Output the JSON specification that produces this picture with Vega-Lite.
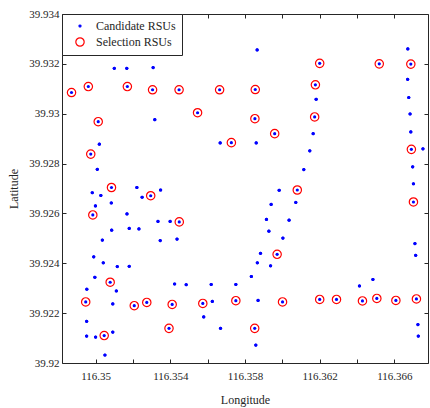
{
  "$schema": "https://vega.github.io/schema/vega-lite/v6.json",
  "autosize": "none",
  "width": 366,
  "height": 349,
  "padding": {"left": 62, "top": 14, "right": 2, "bottom": 45},
  "background": "white",
  "config": {
    "view": {"stroke": null},
    "font": "Liberation Serif",
    "axis": {
      "labelFont": "Liberation Serif", "titleFont": "Liberation Serif",
      "labelFontSize": 11, "titleFontSize": 12, "titleFontWeight": "normal",
      "labelColor": "#262626", "titleColor": "#262626",
      "domainColor": "#262626", "tickColor": "#262626",
      "grid": false, "tickSize": -4, "domainWidth": 1, "tickWidth": 1
    },
    "legend": {"labelFont": "Liberation Serif"}
  },
  "data": {"values": [
    {"lon": 116.3510, "lat": 39.93182, "kind": "Candidate RSUs"},
    {"lon": 116.35167, "lat": 39.93182, "kind": "Candidate RSUs"},
    {"lon": 116.35308, "lat": 39.93185, "kind": "Candidate RSUs"},
    {"lon": 116.35317, "lat": 39.92976, "kind": "Candidate RSUs"},
    {"lon": 116.3502, "lat": 39.92878, "kind": "Candidate RSUs"},
    {"lon": 116.35009, "lat": 39.92777, "kind": "Candidate RSUs"},
    {"lon": 116.35221, "lat": 39.92704, "kind": "Candidate RSUs"},
    {"lon": 116.35348, "lat": 39.92694, "kind": "Candidate RSUs"},
    {"lon": 116.34982, "lat": 39.92683, "kind": "Candidate RSUs"},
    {"lon": 116.35028, "lat": 39.92672, "kind": "Candidate RSUs"},
    {"lon": 116.35249, "lat": 39.92665, "kind": "Candidate RSUs"},
    {"lon": 116.35865, "lat": 39.93256, "kind": "Candidate RSUs"},
    {"lon": 116.36672, "lat": 39.9326, "kind": "Candidate RSUs"},
    {"lon": 116.36181, "lat": 39.93058, "kind": "Candidate RSUs"},
    {"lon": 116.36671, "lat": 39.93138, "kind": "Candidate RSUs"},
    {"lon": 116.36677, "lat": 39.93065, "kind": "Candidate RSUs"},
    {"lon": 116.36684, "lat": 39.92999, "kind": "Candidate RSUs"},
    {"lon": 116.36688, "lat": 39.92927, "kind": "Candidate RSUs"},
    {"lon": 116.36753, "lat": 39.92859, "kind": "Candidate RSUs"},
    {"lon": 116.35667, "lat": 39.92883, "kind": "Candidate RSUs"},
    {"lon": 116.3586, "lat": 39.92883, "kind": "Candidate RSUs"},
    {"lon": 116.36165, "lat": 39.9292, "kind": "Candidate RSUs"},
    {"lon": 116.36147, "lat": 39.92851, "kind": "Candidate RSUs"},
    {"lon": 116.36115, "lat": 39.92776, "kind": "Candidate RSUs"},
    {"lon": 116.36698, "lat": 39.92787, "kind": "Candidate RSUs"},
    {"lon": 116.36702, "lat": 39.92719, "kind": "Candidate RSUs"},
    {"lon": 116.35983, "lat": 39.92693, "kind": "Candidate RSUs"},
    {"lon": 116.34999, "lat": 39.9263, "kind": "Candidate RSUs"},
    {"lon": 116.35084, "lat": 39.92642, "kind": "Candidate RSUs"},
    {"lon": 116.35168, "lat": 39.92598, "kind": "Candidate RSUs"},
    {"lon": 116.35086, "lat": 39.92533, "kind": "Candidate RSUs"},
    {"lon": 116.3518, "lat": 39.9254, "kind": "Candidate RSUs"},
    {"lon": 116.35232, "lat": 39.92538, "kind": "Candidate RSUs"},
    {"lon": 116.35036, "lat": 39.92493, "kind": "Candidate RSUs"},
    {"lon": 116.35334, "lat": 39.92568, "kind": "Candidate RSUs"},
    {"lon": 116.35399, "lat": 39.92568, "kind": "Candidate RSUs"},
    {"lon": 116.35346, "lat": 39.92491, "kind": "Candidate RSUs"},
    {"lon": 116.35436, "lat": 39.92497, "kind": "Candidate RSUs"},
    {"lon": 116.3499, "lat": 39.92426, "kind": "Candidate RSUs"},
    {"lon": 116.35041, "lat": 39.92402, "kind": "Candidate RSUs"},
    {"lon": 116.35116, "lat": 39.92387, "kind": "Candidate RSUs"},
    {"lon": 116.3518, "lat": 39.92388, "kind": "Candidate RSUs"},
    {"lon": 116.34996, "lat": 39.92344, "kind": "Candidate RSUs"},
    {"lon": 116.34953, "lat": 39.92296, "kind": "Candidate RSUs"},
    {"lon": 116.35111, "lat": 39.92289, "kind": "Candidate RSUs"},
    {"lon": 116.35092, "lat": 39.92237, "kind": "Candidate RSUs"},
    {"lon": 116.35423, "lat": 39.92317, "kind": "Candidate RSUs"},
    {"lon": 116.35485, "lat": 39.92314, "kind": "Candidate RSUs"},
    {"lon": 116.35619, "lat": 39.92315, "kind": "Candidate RSUs"},
    {"lon": 116.35625, "lat": 39.92247, "kind": "Candidate RSUs"},
    {"lon": 116.35579, "lat": 39.92185, "kind": "Candidate RSUs"},
    {"lon": 116.34952, "lat": 39.92167, "kind": "Candidate RSUs"},
    {"lon": 116.34952, "lat": 39.92108, "kind": "Candidate RSUs"},
    {"lon": 116.35, "lat": 39.92104, "kind": "Candidate RSUs"},
    {"lon": 116.35092, "lat": 39.92124, "kind": "Candidate RSUs"},
    {"lon": 116.3505, "lat": 39.92032, "kind": "Candidate RSUs"},
    {"lon": 116.35751, "lat": 39.92315, "kind": "Candidate RSUs"},
    {"lon": 116.35669, "lat": 39.92139, "kind": "Candidate RSUs"},
    {"lon": 116.3594, "lat": 39.92636, "kind": "Candidate RSUs"},
    {"lon": 116.36072, "lat": 39.92644, "kind": "Candidate RSUs"},
    {"lon": 116.35915, "lat": 39.92576, "kind": "Candidate RSUs"},
    {"lon": 116.36036, "lat": 39.92573, "kind": "Candidate RSUs"},
    {"lon": 116.35928, "lat": 39.92529, "kind": "Candidate RSUs"},
    {"lon": 116.36003, "lat": 39.92501, "kind": "Candidate RSUs"},
    {"lon": 116.35883, "lat": 39.9244, "kind": "Candidate RSUs"},
    {"lon": 116.35866, "lat": 39.92402, "kind": "Candidate RSUs"},
    {"lon": 116.35937, "lat": 39.9239, "kind": "Candidate RSUs"},
    {"lon": 116.35834, "lat": 39.92347, "kind": "Candidate RSUs"},
    {"lon": 116.3587, "lat": 39.92251, "kind": "Candidate RSUs"},
    {"lon": 116.35858, "lat": 39.92072, "kind": "Candidate RSUs"},
    {"lon": 116.36413, "lat": 39.92309, "kind": "Candidate RSUs"},
    {"lon": 116.36485, "lat": 39.92335, "kind": "Candidate RSUs"},
    {"lon": 116.3671, "lat": 39.92479, "kind": "Candidate RSUs"},
    {"lon": 116.36714, "lat": 39.92432, "kind": "Candidate RSUs"},
    {"lon": 116.36726, "lat": 39.92154, "kind": "Candidate RSUs"},
    {"lon": 116.36728, "lat": 39.92108, "kind": "Candidate RSUs"},
    {"lon": 116.34871, "lat": 39.93085, "kind": "Selection RSUs"},
    {"lon": 116.34961, "lat": 39.93109, "kind": "Selection RSUs"},
    {"lon": 116.3517, "lat": 39.93109, "kind": "Selection RSUs"},
    {"lon": 116.35305, "lat": 39.93096, "kind": "Selection RSUs"},
    {"lon": 116.35447, "lat": 39.93096, "kind": "Selection RSUs"},
    {"lon": 116.35546, "lat": 39.93004, "kind": "Selection RSUs"},
    {"lon": 116.35014, "lat": 39.92968, "kind": "Selection RSUs"},
    {"lon": 116.34974, "lat": 39.92838, "kind": "Selection RSUs"},
    {"lon": 116.35085, "lat": 39.92704, "kind": "Selection RSUs"},
    {"lon": 116.35295, "lat": 39.92671, "kind": "Selection RSUs"},
    {"lon": 116.362, "lat": 39.93202, "kind": "Selection RSUs"},
    {"lon": 116.36519, "lat": 39.932, "kind": "Selection RSUs"},
    {"lon": 116.36688, "lat": 39.93199, "kind": "Selection RSUs"},
    {"lon": 116.35664, "lat": 39.93096, "kind": "Selection RSUs"},
    {"lon": 116.35855, "lat": 39.93097, "kind": "Selection RSUs"},
    {"lon": 116.36177, "lat": 39.93116, "kind": "Selection RSUs"},
    {"lon": 116.35853, "lat": 39.9298, "kind": "Selection RSUs"},
    {"lon": 116.36173, "lat": 39.92987, "kind": "Selection RSUs"},
    {"lon": 116.35959, "lat": 39.9292, "kind": "Selection RSUs"},
    {"lon": 116.35727, "lat": 39.92884, "kind": "Selection RSUs"},
    {"lon": 116.36691, "lat": 39.92857, "kind": "Selection RSUs"},
    {"lon": 116.3608, "lat": 39.92694, "kind": "Selection RSUs"},
    {"lon": 116.36702, "lat": 39.92646, "kind": "Selection RSUs"},
    {"lon": 116.34985, "lat": 39.92594, "kind": "Selection RSUs"},
    {"lon": 116.35448, "lat": 39.92566, "kind": "Selection RSUs"},
    {"lon": 116.35078, "lat": 39.92324, "kind": "Selection RSUs"},
    {"lon": 116.34947, "lat": 39.92245, "kind": "Selection RSUs"},
    {"lon": 116.35207, "lat": 39.9223, "kind": "Selection RSUs"},
    {"lon": 116.35274, "lat": 39.92243, "kind": "Selection RSUs"},
    {"lon": 116.3541, "lat": 39.92235, "kind": "Selection RSUs"},
    {"lon": 116.35574, "lat": 39.92239, "kind": "Selection RSUs"},
    {"lon": 116.35046, "lat": 39.9211, "kind": "Selection RSUs"},
    {"lon": 116.35393, "lat": 39.92139, "kind": "Selection RSUs"},
    {"lon": 116.35751, "lat": 39.9225, "kind": "Selection RSUs"},
    {"lon": 116.35972, "lat": 39.92436, "kind": "Selection RSUs"},
    {"lon": 116.36001, "lat": 39.92245, "kind": "Selection RSUs"},
    {"lon": 116.362, "lat": 39.92255, "kind": "Selection RSUs"},
    {"lon": 116.3629, "lat": 39.92255, "kind": "Selection RSUs"},
    {"lon": 116.36429, "lat": 39.92249, "kind": "Selection RSUs"},
    {"lon": 116.36506, "lat": 39.92259, "kind": "Selection RSUs"},
    {"lon": 116.36608, "lat": 39.92251, "kind": "Selection RSUs"},
    {"lon": 116.36718, "lat": 39.92257, "kind": "Selection RSUs"},
    {"lon": 116.35852, "lat": 39.92139, "kind": "Selection RSUs"}
  ]},
  "layer": [
    {
      "mark": {"type": "point", "filled": true, "size": 10, "color": "#0000ff", "opacity": 1},
      "encoding": {
        "x": {"field": "lon", "type": "quantitative",
          "scale": {"domain": [116.3482, 116.3678], "nice": false, "zero": false},
          "axis": {"orient": "bottom", "values": [116.35, 116.352, 116.354, 116.356, 116.358, 116.36, 116.362, 116.364, 116.366],
            "format": ".3~f", "labelExpr": "round(datum.value*1000) % 4 == 2 ? datum.label : ''",
            "labelFont": "Liberation Serif", "titleFont": "Liberation Serif",
            "title": "Longitude", "labelPadding": 11, "titlePadding": 13}},
        "y": {"field": "lat", "type": "quantitative",
          "scale": {"domain": [39.92, 39.934], "nice": false, "zero": false},
          "axis": {"orient": "left", "values": [39.92, 39.922, 39.924, 39.926, 39.928, 39.93, 39.932, 39.934],
            "labelFont": "Liberation Serif", "titleFont": "Liberation Serif",
            "format": ".3~f", "title": "Latitude", "labelPadding": 7, "titlePadding": 8}}
      }
    },
    {
      "mark": {"type": "point", "strokeWidth": 1.2, "opacity": 1},
      "encoding": {
        "x": {"field": "lon", "type": "quantitative",
          "axis": {"orient": "top", "values": [116.35, 116.352, 116.354, 116.356, 116.358, 116.36, 116.362, 116.364, 116.366], "labels": false, "title": null}},
        "y": {"field": "lat", "type": "quantitative",
          "axis": {"orient": "right", "values": [39.92, 39.922, 39.924, 39.926, 39.928, 39.93, 39.932, 39.934], "labels": false, "title": null}},
        "fill": {"field": "kind", "type": "nominal",
          "scale": {"domain": ["Candidate RSUs", "Selection RSUs"], "range": ["#0000ff", "transparent"]},
          "legend": {"title": null, "orient": "top-left", "offset": 0, "strokeColor": "#262626", "fillColor": "white", "padding": 6, "rowPadding": 3, "symbolOffset": 6, "labelOffset": 10, "labelFont": "Liberation Serif", "labelFontSize": 12, "labelColor": "#262626", "symbolStrokeWidth": 1.2}},
        "stroke": {"field": "kind", "type": "nominal",
          "scale": {"domain": ["Candidate RSUs", "Selection RSUs"], "range": ["#0000ff", "#ff0000"]},
          "legend": {"title": null, "orient": "top-left", "offset": 0, "strokeColor": "#262626", "fillColor": "white", "padding": 6, "rowPadding": 3, "symbolOffset": 6, "labelOffset": 10, "labelFont": "Liberation Serif", "labelFontSize": 12, "labelColor": "#262626", "symbolStrokeWidth": 1.2}},
        "size": {"field": "kind", "type": "ordinal",
          "scale": {"domain": ["Candidate RSUs", "Selection RSUs"], "range": [4, 70]},
          "legend": {"title": null, "orient": "top-left", "offset": 0, "strokeColor": "#262626", "fillColor": "white", "padding": 6, "rowPadding": 3, "symbolOffset": 6, "labelOffset": 10, "labelFont": "Liberation Serif", "labelFontSize": 12, "labelColor": "#262626", "symbolStrokeWidth": 1.2}}
      }
    }
  ],
  "resolve": {"axis": {"x": "independent", "y": "independent"}}
}
